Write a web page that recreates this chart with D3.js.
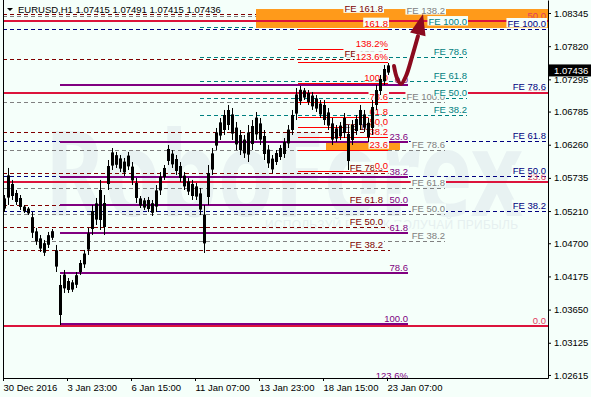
<!DOCTYPE html>
<html>
<head>
<meta charset="utf-8">
<style>
  body { margin: 0; background: #F5FFFA; }
  svg { display: block; font-family: "Liberation Sans", Arial, sans-serif; }
</style>
</head>
<body>
<script src="https://cdnjs.cloudflare.com/ajax/libs/d3/7.8.5/d3.min.js"></script>
<svg id="chart" width="591" height="397"></svg>
<script>
// EURUSD H1, bars grouped by 4 hours, oldest first
const barHigh = [1.05464, 1.05892, 1.05702, 1.05543, 1.05464, 1.05306, 1.05274, 1.05195, 1.04942, 1.04831,
  1.04752, 1.04879, 1.04926, 1.04673, 1.04198, 1.04277, 1.04150, 1.04119, 1.04245, 1.04435,
  1.04594, 1.04942, 1.05306, 1.05417, 1.05702, 1.05464, 1.06018, 1.06208, 1.06145, 1.06097,
  1.06050, 1.06145, 1.05986, 1.05733, 1.05448, 1.05417, 1.05433, 1.05385, 1.05622, 1.05828,
  1.05939, 1.06256, 1.06176, 1.06097, 1.05986, 1.05828, 1.05733, 1.05702, 1.05654, 1.05575,
  1.05306, 1.05939, 1.06208, 1.06525, 1.06683, 1.06810, 1.06889, 1.06841, 1.06620, 1.06493,
  1.06414, 1.06572, 1.06651, 1.06778, 1.06683, 1.06493, 1.06256, 1.06097, 1.06176, 1.06256,
  1.06366, 1.06572, 1.06810, 1.07158, 1.07190, 1.07158, 1.07126, 1.07095, 1.07047, 1.06968,
  1.06968, 1.06841, 1.06683, 1.06572, 1.06620, 1.06762, 1.06572, 1.06651, 1.06730, 1.06889,
  1.06810, 1.06683, 1.06968, 1.07205, 1.07364, 1.07522, 1.07554];
const barLow = [1.05195, 1.05306, 1.05385, 1.05306, 1.05227, 1.05179, 1.05148, 1.04784, 1.04673, 1.04562,
  1.04499, 1.04625, 1.04752, 1.04245, 1.03406, 1.03913, 1.03913, 1.03929, 1.03992, 1.04198,
  1.04309, 1.04515, 1.04831, 1.04989, 1.04910, 1.04831, 1.05543, 1.05860, 1.05892, 1.05828,
  1.05765, 1.05860, 1.05622, 1.05338, 1.05258, 1.05227, 1.05195, 1.05132, 1.05195, 1.05464,
  1.05702, 1.05939, 1.05892, 1.05781, 1.05670, 1.05543, 1.05464, 1.05385, 1.05385, 1.05148,
  1.04546, 1.05306, 1.05781, 1.06176, 1.06335, 1.06414, 1.06493, 1.06335, 1.06176, 1.06097,
  1.06050, 1.05986, 1.06176, 1.06335, 1.06256, 1.06018, 1.05892, 1.05812, 1.05939, 1.06018,
  1.06050, 1.06208, 1.06414, 1.06651, 1.06889, 1.06968, 1.06889, 1.06810, 1.06778, 1.06683,
  1.06572, 1.06493, 1.06256, 1.06303, 1.06335, 1.06366, 1.05860, 1.06256, 1.06414, 1.06493,
  1.06461, 1.06303, 1.06414, 1.06810, 1.07047, 1.07205, 1.07364];
const lastBar = [1.07415, 1.07491, 1.07415, 1.07436];

const priceTicks = [1.08345, 1.07820, 1.07295, 1.06785, 1.06260, 1.05735, 1.05210, 1.04700, 1.04175, 1.03650, 1.03125, 1.02615];
const timeTicks = [0, 64, 128, 192, 256, 320, 384];
const timeLabels = ["30 Dec 2016", "3 Jan 23:00", "6 Jan 15:00", "11 Jan 07:00", "13 Jan 23:00", "18 Jan 15:00", "23 Jan 07:00"];

// fibonacci tools: price at 0% and at 100%, levels, hours [start, end, label end]
const purpleAnchor = [1.07205, 1.03414], purpleLevels = [0, 23.6, 38.2, 50, 61.8, 78.6, 100, 123.6], purpleSpan = [57, 405, 405];
const redAnchor = [1.05844, 1.07237], redLevels = [0, 23.6, 38.2, 50, 61.8, 78.6, 100, 123.6, 138.2, 161.8], redSpan = [295, 385, 385];
const crimsonAnchor = [1.03391, 1.13048], crimsonLevels = [0, 23.6, 38.2, 50], crimsonSpan = [0, 545, 543];
const navyAnchor = [1.03438, 1.08092], navyLevels = [38.2, 50, 61.8, 78.6, 100], navySpan = [0, 545, 543];
const tealAnchor = [1.05876, 1.08123], tealLevels = [38.2, 50, 61.8, 78.6, 100], tealSpan = [197, 464, 464];
const grayAnchor = [1.03375, 1.06936], grayLevels = [38.2, 50, 61.8, 78.6, 100, 138.2], graySpan = [0, 442, 442];
const maroonAnchor = [1.03446, 1.06461], maroonLevels = [38.2, 50, 61.8, 78.6, 100, 138.2, 161.8], maroonSpan = [0, 387, 380];

// orange zones: [start hour, end hour, top price, bottom price]
const zones = [[253, 545, 1.08408, 1.08108], [323, 397, 1.06287, 1.06176]];
// forecast arrow, [hour, price]
const arrowPts = [[391, 1.07506], [394, 1.07316], [398, 1.07222], [403, 1.07348], [409, 1.07648], [415, 1.07980]];
const arrowTip = [420, 1.08329];

const BG = "#F5FFFA";
const svg = d3.select("#chart");
svg.append("rect").attr("width", 591).attr("height", 397).attr("fill", BG);

const x = d3.scaleLinear().domain([0, 545]).range([3, 548]);
const y = d3.scaleLinear().domain([1.02567, 1.08551]).range([378, 0]);

svg.append("defs").append("clipPath").attr("id", "plot")
  .append("rect").attr("x", 3).attr("y", 0).attr("width", 545).attr("height", 378);
const g = svg.append("g").attr("clip-path", "url(#plot)");

// watermark
g.append("text").attr("x", 45).attr("y", 216).text("RoboForex")
  .attr("font-family", "Noto Sans").attr("font-weight", "bold").attr("font-size", 118)
  .attr("textLength", 478).attr("lengthAdjust", "spacingAndGlyphs").attr("fill", "#E8F2F2");
g.append("text").attr("x", 265).attr("y", 229).text("ИСПОЛЬЗУЙ РЫНОК   ПОЛУЧАЙ ПРИБЫЛЬ")
  .attr("font-size", 12).attr("textLength", 253).attr("fill", "#E6F0F0");

const tools = {
  navy: { anchor: navyAnchor, levels: navyLevels, span: navySpan, color: "#000080", dash: "4,3", w: 1, fe: true },
  gray: { anchor: grayAnchor, levels: grayLevels, span: graySpan, color: "#808080", dash: "4,3", w: 1, fe: true },
  maroon: { anchor: maroonAnchor, levels: maroonLevels, span: maroonSpan, color: "#800000", dash: "4,3", w: 1, fe: true },
  teal: { anchor: tealAnchor, levels: tealLevels, span: tealSpan, color: "#008080", dash: "4,3", w: 1, fe: true },
  crimson: { anchor: crimsonAnchor, levels: crimsonLevels, span: crimsonSpan, color: "#DC143C", w: 2, fe: false, lab: "#E0405E", nobg: true },
  purple: { anchor: purpleAnchor, levels: purpleLevels, span: purpleSpan, color: "#800080", w: 2, fe: false },
  red: { anchor: redAnchor, levels: redLevels, span: redSpan, color: "#FF0000", w: 1, fe: false }
};
const levelPrice = (t, l) => t.anchor[0] + (t.anchor[1] - t.anchor[0]) * l / 100;
const lineY = (t, l) => t.w === 1 ? Math.round(y(levelPrice(t, l))) + 0.5 : Math.round(y(levelPrice(t, l)));

function drawLines(t) {
  g.append("g").selectAll("line").data(t.levels).join("line")
    .attr("x1", x(t.span[0])).attr("x2", x(t.span[1]))
    .attr("y1", d => lineY(t, d)).attr("y2", d => lineY(t, d))
    .attr("stroke", t.color).attr("stroke-width", t.w)
    .attr("stroke-dasharray", t.dash || null);
}
["navy", "gray", "maroon", "teal"].forEach(k => drawLines(tools[k]));

g.append("g").selectAll("rect").data(zones).join("rect")
  .attr("x", d => x(d[0])).attr("width", d => x(d[1]) - x(d[0]))
  .attr("y", d => y(d[2])).attr("height", d => y(d[3]) - y(d[2]))
  .attr("fill", "#FF9A1A");

["crimson", "purple", "red"].forEach(k => drawLines(tools[k]));

function drawLabels(t) {
  t.levels.forEach(l => {
    const txt = t.fe ? "FE " + l.toFixed(1) : l.toFixed(1) + (l === 123.6 || l === 138.2 ? "%" : "");
    const ly = y(levelPrice(t, l));
    const lg = g.append("g");
    const r = lg.append("rect");
    const tx = lg.append("text").attr("x", x(t.span[2])).attr("y", ly - 2)
      .attr("text-anchor", "end").attr("font-size", 9.5)
      .attr("fill", t.lab || t.color).text(txt);
    const wd = tx.node().getComputedTextLength();
    if (!t.nobg) r.attr("x", x(t.span[2]) - wd - 1).attr("y", ly - 11).attr("width", wd + 2).attr("height", 9.5).attr("fill", BG);
  });
}
["crimson", "navy", "gray", "teal", "maroon", "purple", "red"].forEach(k => drawLabels(tools[k]));

// bars
const bars = barHigh.map((h, k) => ({ t: 1 + 4 * k, hi: h, lo: barLow[k] }));
g.append("g").selectAll("line").data(bars).join("line")
  .attr("x1", d => x(d.t) + 0.5).attr("x2", d => x(d.t) + 0.5)
  .attr("y1", d => y(d.hi)).attr("y2", d => y(d.lo))
  .attr("stroke", "#000").attr("stroke-width", 1);
g.append("g").selectAll("rect").data(bars).join("rect")
  .attr("x", d => x(d.t) - 1).attr("width", 3)
  .attr("y", d => y(d.hi) + (y(d.lo) - y(d.hi)) * 0.2)
  .attr("height", d => (y(d.lo) - y(d.hi)) * 0.6)
  .attr("fill", "#000");

// arrow
const aLine = d3.line().curve(d3.curveCatmullRom).x(d => x(d[0])).y(d => y(d[1]));
g.append("path").attr("d", aLine(arrowPts)).attr("fill", "none")
  .attr("stroke", "#8B0A1E").attr("stroke-width", 4).attr("stroke-linecap", "round");
{
  const last = arrowPts[arrowPts.length - 2];
  const tx = x(arrowTip[0]), ty = y(arrowTip[1]);
  const dx = tx - x(last[0]), dy = ty - y(last[1]);
  const n = Math.hypot(dx, dy), ux = dx / n, uy = dy / n;
  const bx = tx - 21 * ux, by = ty - 21 * uy;
  g.append("path")
    .attr("d", `M${tx},${ty}L${bx + 8 * uy},${by - 8 * ux}L${bx - 8 * uy},${by + 8 * ux}Z`)
    .attr("fill", "#8B0A1E");
}

// axes
const yAxis = svg.append("g").attr("transform", "translate(548,0)")
  .call(d3.axisRight(y).tickValues(priceTicks).tickSize(3).tickSizeOuter(0).tickFormat(d3.format(".5f")));
const xAxis = svg.append("g").attr("transform", "translate(0,378)")
  .call(d3.axisBottom(x).tickValues(timeTicks).tickSize(3).tickSizeOuter(0).tickFormat((d, i) => timeLabels[i]));
[yAxis, xAxis].forEach(a => {
  a.selectAll("text").attr("font-size", 9.5).attr("font-family", "Liberation Sans, Arial, sans-serif").attr("fill", "#000");
  a.selectAll("line,path").attr("stroke", "#000");
});
xAxis.selectAll("text").attr("text-anchor", "start").attr("x", 0);
svg.append("line").attr("x1", 3.5).attr("x2", 3.5).attr("y1", 0).attr("y2", 378).attr("stroke", "#000");

// current price
svg.append("rect").attr("x", 549).attr("y", y(lastBar[3]) - 6).attr("width", 42).attr("height", 12).attr("fill", "#000");
svg.append("text").attr("x", 554).attr("y", y(lastBar[3])).attr("dy", "0.34em")
  .attr("font-size", 9.5).attr("fill", "#fff").text(d3.format(".5f")(lastBar[3]));

// title
svg.append("path").attr("d", "M7,8L13,8L10,11Z").attr("fill", "#000");
svg.append("text").attr("x", 18).attr("y", 13).attr("font-size", 9.5).attr("fill", "#000")
  .text("EURUSD,H1 " + lastBar.map(d3.format(".5f")).join(" "));
</script>
</body>
</html>
